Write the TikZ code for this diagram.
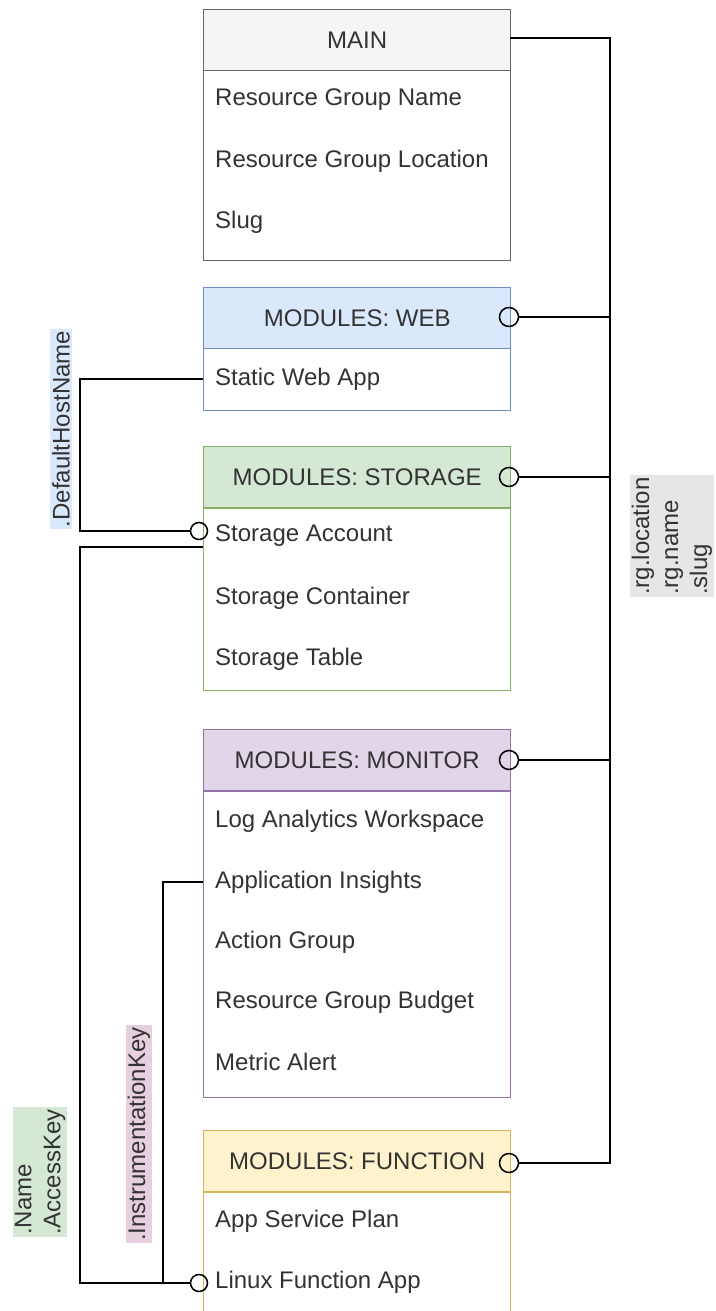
\documentclass[tikz,border=0pt]{standalone}
\usepackage{fontspec}
\setmainfont{Liberation Sans}
\begin{document}
\begin{tikzpicture}[x=1pt,y=-1pt,
  every node/.style={font=\fontsize{24}{29}\selectfont, text=txt},
  hdr/.style={draw, line width=1.4pt, anchor=north west, minimum width=307pt, minimum height=61pt, inner sep=0pt},
  bodybox/.style={draw, line width=1.4pt, fill=white, anchor=north west, minimum width=307pt, inner sep=0pt},
  item/.style={anchor=west, inner sep=0pt},
  port/.style={circle, draw=black, line width=1.5pt, minimum size=19pt, inner sep=0pt},
  wire/.style={draw=black, line width=1.5pt},
  tag/.style={rotate=90, align=left, inner sep=2pt, font=\fontsize{24}{29}\selectfont}
]
\definecolor{txt}{HTML}{333333}
\definecolor{mainf}{HTML}{F5F5F5}\definecolor{maind}{HTML}{666666}
\definecolor{webf}{HTML}{DAE8FC}\definecolor{webd}{HTML}{6C8EBF}
\definecolor{stof}{HTML}{D5E8D4}\definecolor{stod}{HTML}{82B366}
\definecolor{monf}{HTML}{E1D5E7}\definecolor{mond}{HTML}{9673A6}
\definecolor{funf}{HTML}{FFF2CC}\definecolor{fund}{HTML}{D6B656}
\definecolor{grayf}{HTML}{E6E6E6}
\definecolor{pinkf}{HTML}{E6D0DE}
\clip (0,0) rectangle (715,1311);
\fill[white] (0,0) rectangle (715,1311);

% MAIN
\node[bodybox, draw=maind, minimum height=190pt] (mainb) at (203,70) {};
\node[hdr, draw=maind, fill=mainf] (mainh) at (203,9) {MAIN};
\node[item] (m1) at (215,100) {Resource Group Name};
\node[item] (m2) at (215,161) {Resource Group Location};
\node[item] (m3) at (215,222) {Slug};

% WEB
\node[bodybox, draw=webd, minimum height=62pt] (webb) at (203,348) {};
\node[hdr, draw=webd, fill=webf] (webh) at (203,287) {MODULES: WEB};
\node[item] (w1) at (215,379) {Static Web App};

% STORAGE
\node[bodybox, draw=stod, minimum height=182pt] (stob) at (203,508) {};
\node[hdr, draw=stod, fill=stof] (stoh) at (203,446) {MODULES: STORAGE};
\node[item] (s1) at (215,536) {Storage Account};
\node[item] (s2) at (215,598) {Storage Container};
\node[item] (s3) at (215,659) {Storage Table};

% MONITOR
\node[bodybox, draw=mond, minimum height=306pt] (monb) at (203,791) {};
\node[hdr, draw=mond, fill=monf] (monh) at (203,729) {MODULES: MONITOR};
\node[item] (o1) at (215,821) {Log Analytics Workspace};
\node[item] (o2) at (215,882) {Application Insights};
\node[item] (o3) at (215,942) {Action Group};
\node[item] (o4) at (215,1002) {Resource Group Budget};
\node[item] (o5) at (215,1062) {Metric Alert};

% FUNCTION
\node[bodybox, draw=fund, minimum height=150pt] (funb) at (203,1192) {};
\node[hdr, draw=fund, fill=funf] (funh) at (203,1130) {MODULES: FUNCTION};
\node[item] (f1) at (215,1221) {App Service Plan};
\node[item] (f2) at (215,1282) {Linux Function App};

% ports
\node[port] (pw) at (509,317) {};
\node[port] (ps) at (509,477) {};
\node[port] (pm) at (509,760) {};
\node[port] (pf) at (509,1163) {};
\node[port, minimum size=17pt] (pls) at (199,531) {};
\node[port, minimum size=17pt] (plf) at (199,1283) {};

% right trunk
\coordinate (tr) at (610,0);
\coordinate (mainout) at (510,38);
\path[wire] (mainout) -- (tr |- mainout) -- (tr |- pf) -- (pf.east);
\path[wire] (pw.east) -- (tr |- pw);
\path[wire] (ps.east) -- (tr |- ps);
\path[wire] (pm.east) -- (tr |- pm);

% left connectors
\coordinate (lx) at (80,0);
\coordinate (ix) at (163,0);
\coordinate (sout) at (203,547);
\path[wire] (webb.west |- w1) -- (lx |- w1) -- (lx |- pls) -- (pls.west);
\path[wire] (sout) -- (lx |- sout) -- (lx |- plf) -- (plf.west);
\path[wire] (monb.west |- o2) -- (ix |- o2) -- (ix |- plf);

% labels
\node[tag, fill=webf] (ldh) at (61,429) {.DefaultHostName};
\node[tag, fill=grayf] (lrg) at (672,536) {.rg.location\\.rg.name\\.slug};
\node[tag, fill=stof] (lna) at (40,1172) {.Name\\.AccessKey};
\node[tag, fill=pinkf] (lik) at (139,1134) {.InstrumentationKey};
\end{tikzpicture}
\end{document}
